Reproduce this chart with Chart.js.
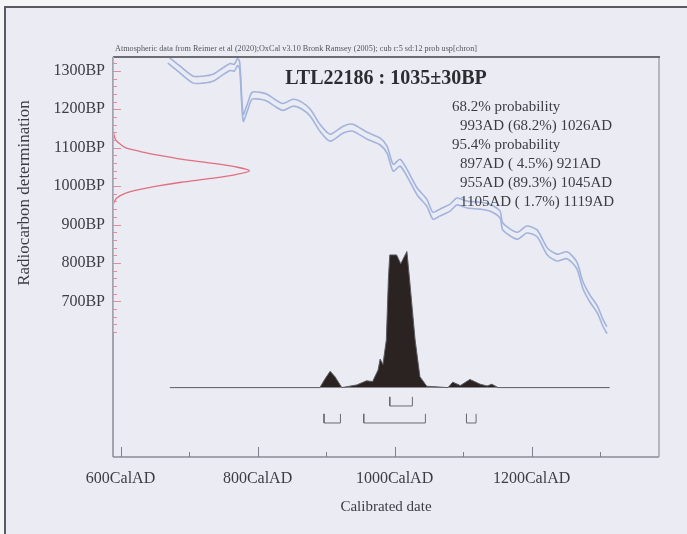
<!DOCTYPE html>
<html>
<head>
<meta charset="utf-8">
<title>LTL22186 calibration</title>
<script src="https://cdn.jsdelivr.net/npm/chart.js@4.4.1/dist/chart.umd.min.js"></script>
<style>
    html, body { margin: 0; padding: 0; background: #f5f5f8; }
    #chart { display: block; }
</style>
</head>
<body>
<canvas id="chart" width="687" height="534"></canvas>
<script>
// Calibration curve (IntCal band)
const curveYears = [669, 687, 706, 720, 735, 748, 760, 766, 771, 774, 779, 785, 792, 804, 814, 825, 837, 852, 865, 877,
    891, 906, 925, 939, 960, 979, 989, 998, 1008, 1018, 1033, 1047, 1056, 1066, 1081, 1091, 1106, 1125, 1139, 1154,
    1158, 1179, 1193, 1208, 1223, 1237, 1252, 1266, 1275, 1285, 1296, 1304, 1310];
const curveBP = [1329, 1303, 1277, 1277, 1282, 1297, 1310, 1308, 1323, 1313, 1178, 1204, 1235, 1235, 1230, 1217, 1206, 1217, 1209, 1191,
    1152, 1126, 1147, 1152, 1131, 1116, 1095, 1048, 1061, 1035, 986, 957, 923, 931, 944, 960, 952, 949, 944, 926,
    895, 871, 887, 877, 830, 814, 820, 794, 742, 708, 679, 645, 625];
const curveErr = 9;

// Radiocarbon measurement 1035±30BP (relative height)
const rcBP = [1145, 1130, 1120, 1110, 1100, 1090, 1080, 1070, 1060, 1050, 1040, 1030, 1020, 1010, 1000, 990, 980, 970, 960, 950];
const rcProb = [0, 0.01, 0.02, 0.05, 0.09, 0.2, 0.34, 0.5, 0.72, 0.9, 1.0, 0.9, 0.72, 0.5, 0.32, 0.18, 0.08, 0.03, 0.01, 0];

// Calibrated distribution (relative height)
const postYears = [672, 891, 898, 906, 913, 923, 945, 959, 968, 976, 979, 983, 988, 991, 993, 1003, 1009, 1018, 1022, 1030,
    1037, 1047, 1078, 1085, 1096, 1110, 1125, 1135, 1142, 1151, 1314];
const postProb = [0, 0, 0.06, 0.12, 0.08, 0, 0.02, 0.05, 0.045, 0.13, 0.21, 0.17, 0.35, 0.8, 0.975, 0.975, 0.91, 1.0, 0.79, 0.35,
    0.08, 0.01, 0, 0.04, 0.015, 0.06, 0.025, 0.012, 0.025, 0, 0];

// Highest probability ranges
const range68 = [[993, 1026]];
const range95 = [[897, 921], [955, 1045], [1105, 1119]];

// Axis ticks
const xTicks = [600, 700, 800, 900, 1000, 1100, 1200, 1300];
const yTicks = [700, 800, 900, 1000, 1100, 1200, 1300];

// Texts
const chartTitle = 'LTL22186 : 1035\u00b130BP';
const caption = 'Atmospheric data from Reimer et al (2020);OxCal v3.10 Bronk Ramsey (2005); cub r:5 sd:12 prob usp[chron]';
const probLines = [
    ['68.2% probability', false],
    ['993AD (68.2%) 1026AD', true],
    ['95.4% probability', false],
    ['897AD ( 4.5%) 921AD', true],
    ['955AD (89.3%) 1045AD', true],
    ['1105AD ( 1.7%) 1119AD', true]
];

const SERIF = '"Liberation Serif", "Times New Roman", serif';

// Build bracket polylines (U shapes below the distribution)
function bracketPoints(ranges, top, bottom) {
    const pts = [];
    ranges.forEach(([a, b]) => {
        pts.push({ x: a, y: top }, { x: a, y: bottom }, { x: b, y: bottom }, { x: b, y: top }, { x: b, y: null });
    });
    return pts;
}

const band = (sign) => curveYears.map((yr, i) => ({ x: yr, y: curveBP[i] + sign * curveErr }));

// Background, frame, ticks and texts
const oxcalDecor = {
    id: 'oxcalDecor',
    beforeDraw(chart) {
        const ctx = chart.ctx;
        ctx.save();
        ctx.fillStyle = '#f5f5f8';
        ctx.fillRect(0, 0, chart.width, chart.height);
        ctx.fillStyle = '#ebebf3';
        ctx.fillRect(6, 8, chart.width, chart.height);
        // page border
        ctx.strokeStyle = '#5a5a62';
        ctx.lineWidth = 2;
        ctx.beginPath();
        ctx.moveTo(5, chart.height);
        ctx.lineTo(5, 7);
        ctx.lineTo(chart.width, 7);
        ctx.stroke();
        ctx.restore();
    },
    afterDatasetsDraw(chart) {
        const ctx = chart.ctx;
        const { left, right, top, bottom } = chart.chartArea;
        const x = chart.scales.x;
        const y = chart.scales.y;
        ctx.save();

        // frame
        ctx.lineWidth = 1.5;
        ctx.strokeStyle = '#8c8c96';
        ctx.beginPath();
        ctx.moveTo(left, bottom); ctx.lineTo(right, bottom);
        ctx.moveTo(left, top); ctx.lineTo(left, bottom);
        ctx.stroke();
        ctx.strokeStyle = '#a4a4ae';
        ctx.beginPath();
        ctx.moveTo(right, top); ctx.lineTo(right, bottom);
        ctx.stroke();
        ctx.strokeStyle = '#6c6c74';
        ctx.lineWidth = 2;
        ctx.beginPath();
        ctx.moveTo(left, top); ctx.lineTo(right + 1, top);
        ctx.stroke();

        // calendar ticks (inward)
        ctx.strokeStyle = '#80808a';
        ctx.lineWidth = 1;
        xTicks.forEach(v => {
            const px = Math.round(x.getPixelForValue(v)) + 0.5;
            ctx.beginPath();
            ctx.moveTo(px, bottom);
            ctx.lineTo(px, bottom - (v % 200 === 0 ? 10 : 5));
            ctx.stroke();
        });

        // radiocarbon ticks (red, every 20BP)
        const redEnd = y.getPixelForValue(620);
        ctx.strokeStyle = '#eaa2b0';
        ctx.beginPath();
        ctx.moveTo(left + 0.5, top);
        ctx.lineTo(left + 0.5, redEnd);
        ctx.stroke();
        ctx.strokeStyle = '#e58c9c';
        for (let v = 1320; v >= 620; v -= 20) {
            const py = Math.round(y.getPixelForValue(v)) + 0.5;
            ctx.beginPath();
            ctx.moveTo(left, py);
            ctx.lineTo(left + (v % 100 === 0 ? 8 : 4), py);
            ctx.stroke();
        }
        ctx.restore();
    },
    afterDraw(chart) {
        const ctx = chart.ctx;
        const { left, right, top } = chart.chartArea;
        ctx.save();

        // caption above the plot
        ctx.fillStyle = '#55555c';
        ctx.font = '8.3px ' + SERIF;
        ctx.textAlign = 'left';
        ctx.textBaseline = 'alphabetic';
        ctx.fillText(caption, left + 2, top - 6, 362);

        // sample title
        ctx.fillStyle = '#2c2c32';
        ctx.font = 'bold 20px ' + SERIF;
        ctx.textAlign = 'center';
        ctx.textBaseline = 'middle';
        ctx.fillText(chartTitle, (left + right) / 2, 79);

        // ranges text
        ctx.fillStyle = '#3c3c44';
        ctx.font = '15px ' + SERIF;
        ctx.textAlign = 'left';
        probLines.forEach(([txt, indent], i) => {
            ctx.fillText(txt, indent ? 460 : 452, 107 + i * 19);
        });

        // y axis title
        ctx.font = '17px ' + SERIF;
        ctx.textAlign = 'center';
        ctx.translate(25, 193);
        ctx.rotate(-Math.PI / 2);
        ctx.fillText('Radiocarbon determination', 0, 0);
        ctx.restore();
    }
};

new Chart(document.getElementById('chart'), {
    type: 'line',
    data: {
        datasets: [
            {
                label: 'Calibrated date',
                data: postYears.map((yr, i) => ({ x: yr, y: postProb[i] })),
                xAxisID: 'x',
                yAxisID: 'yp',
                borderColor: '#5a5a60',
                borderWidth: 1,
                backgroundColor: '#2b2321',
                fill: 'origin',
                tension: 0
            },
            {
                label: '68.2%',
                data: bracketPoints(range68, -0.068, -0.135),
                xAxisID: 'x',
                yAxisID: 'yp',
                borderColor: '#6a6a72',
                borderWidth: 1,
                fill: false,
                tension: 0
            },
            {
                label: '95.4%',
                data: bracketPoints(range95, -0.193, -0.26),
                xAxisID: 'x',
                yAxisID: 'yp',
                borderColor: '#6a6a72',
                borderWidth: 1,
                fill: false,
                tension: 0
            },
            {
                label: 'Curve +1σ',
                data: band(1),
                xAxisID: 'x',
                yAxisID: 'y',
                borderColor: '#a2b4db',
                borderWidth: 1.6,
                fill: false,
                tension: 0.25
            },
            {
                label: 'Curve -1σ',
                data: band(-1),
                xAxisID: 'x',
                yAxisID: 'y',
                borderColor: '#a2b4db',
                borderWidth: 1.6,
                fill: false,
                tension: 0.25
            },
            {
                label: 'Radiocarbon',
                data: rcBP.map((bp, i) => ({ x: rcProb[i], y: bp })),
                xAxisID: 'xg',
                yAxisID: 'y',
                borderColor: '#e0707f',
                borderWidth: 1.3,
                fill: false,
                tension: 0.3
            }
        ]
    },
    options: {
        responsive: false,
        animation: false,
        parsing: false,
        normalized: true,
        layout: { padding: { left: 0, right: 28, top: 57, bottom: 0 } },
        elements: { point: { radius: 0 } },
        plugins: {
            legend: { display: false },
            tooltip: { enabled: false }
        },
        scales: {
            x: {
                type: 'linear',
                position: 'bottom',
                min: 589,
                max: 1386,
                afterBuildTicks: (scale) => { scale.ticks = xTicks.map(v => ({ value: v })); },
                afterFit: (scale) => { scale.height = 77; },
                grid: { display: false },
                border: { display: false },
                ticks: {
                    autoSkip: false,
                    maxRotation: 0,
                    padding: 4,
                    color: '#3c3c44',
                    font: { family: SERIF, size: 16 },
                    callback: (v) => (v % 200 === 0 ? v + 'CalAD' : '')
                },
                title: {
                    display: true,
                    text: 'Calibrated date',
                    color: '#3c3c44',
                    font: { family: SERIF, size: 15 },
                    padding: { top: 0, bottom: 18 }
                }
            },
            y: {
                type: 'linear',
                position: 'left',
                min: 295,
                max: 1336,
                afterBuildTicks: (scale) => { scale.ticks = yTicks.map(v => ({ value: v })); },
                afterFit: (scale) => { scale.width = 113; },
                grid: { display: false },
                border: { display: false },
                ticks: {
                    padding: 0,
                    color: '#3c3c44',
                    font: { family: SERIF, size: 16 },
                    callback: (v) => v + 'BP'
                }
            },
            xg: { type: 'linear', display: false, min: 0, max: 4 },
            yp: { type: 'linear', display: false, min: -0.51, max: 2.43 }
        }
    },
    plugins: [oxcalDecor]
});
</script>
</body>
</html>
